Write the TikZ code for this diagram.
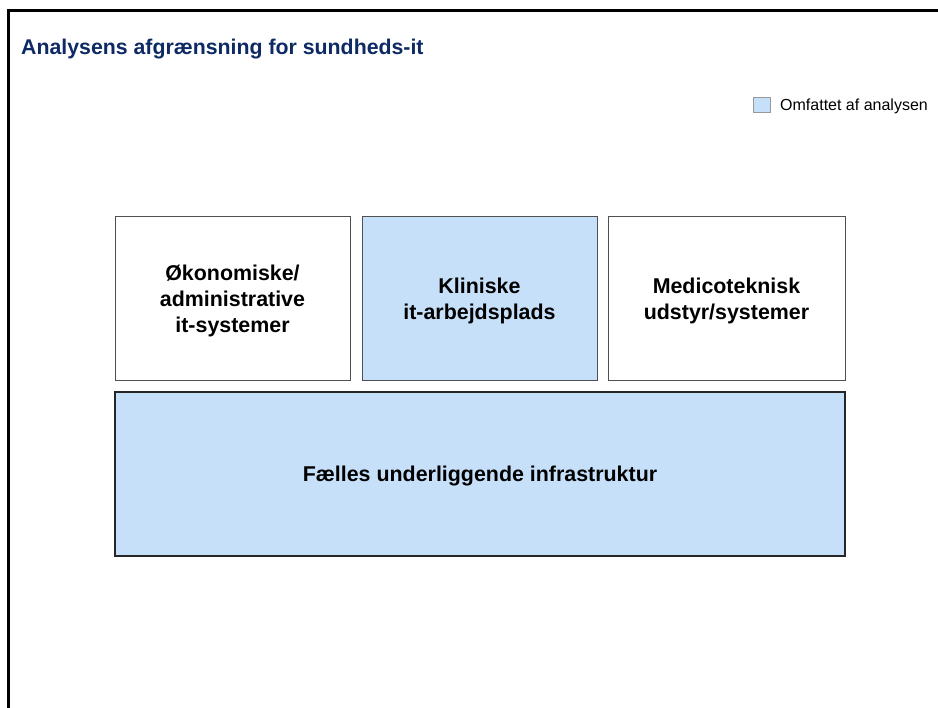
\documentclass[tikz,border=0pt]{standalone}
\usepackage{fontspec}
\setmainfont{Liberation Sans}
\definecolor{titleblue}{RGB}{14,42,100}
\definecolor{scopeblue}{RGB}{199,224,250}
\definecolor{boxline}{RGB}{80,80,80}
\newcommand{\toppad}{\rule{0pt}{22pt}}
\begin{document}
\begin{tikzpicture}[x=1pt,y=-1pt,
  topbox/.style={draw=boxline, line width=0.9pt, minimum width=235pt, minimum height=164pt, inner sep=0pt, align=center, font=\bfseries\fontsize{21.4}{25.8}\selectfont},
  basebox/.style={draw=black!85, line width=1.6pt, fill=scopeblue, minimum width=730pt, minimum height=164pt, inner sep=0pt, align=center, font=\bfseries\fontsize{21.4}{25.8}\selectfont},
  inscope/.style={fill=scopeblue}]
\useasboundingbox (0,0) rectangle (938,708);
\fill[white] (0,0) rectangle (938,708);
% frame (open to right and bottom)
\draw[line width=2.5pt] (8.3,730) -- (8.3,10.3) -- (960,10.3);
% title
\node[anchor=base west, inner sep=0pt, text=titleblue, font=\bfseries\fontsize{21.3}{24}\selectfont] (title) at (21,55) {Analysens afgrænsning for sundheds-it};
% legend
\node[draw=black!40, line width=0.8pt, fill=scopeblue, minimum width=17pt, minimum height=15.5pt, inner sep=0pt] (legbox) at (762,105) {};
\node[anchor=base west, inner sep=0pt, font=\fontsize{16}{19}\selectfont] (legtext) at (780,110.5) {Omfattet af analysen};
% boxes
\node[topbox] (oko) at (232.5,298) {\toppad Økonomiske/\\administrative\\it-systemer};
\node[topbox, inscope] (klin) at (479.5,298) {\toppad Kliniske\\it-arbejdsplads};
\node[topbox, minimum width=237pt] (medi) at (726.5,298) {\toppad Medicoteknisk\\udstyr/systemer};
\node[basebox] (infra) at (480,474) {\rule{0pt}{20pt}Fælles underliggende infrastruktur};
\end{tikzpicture}
\end{document}
